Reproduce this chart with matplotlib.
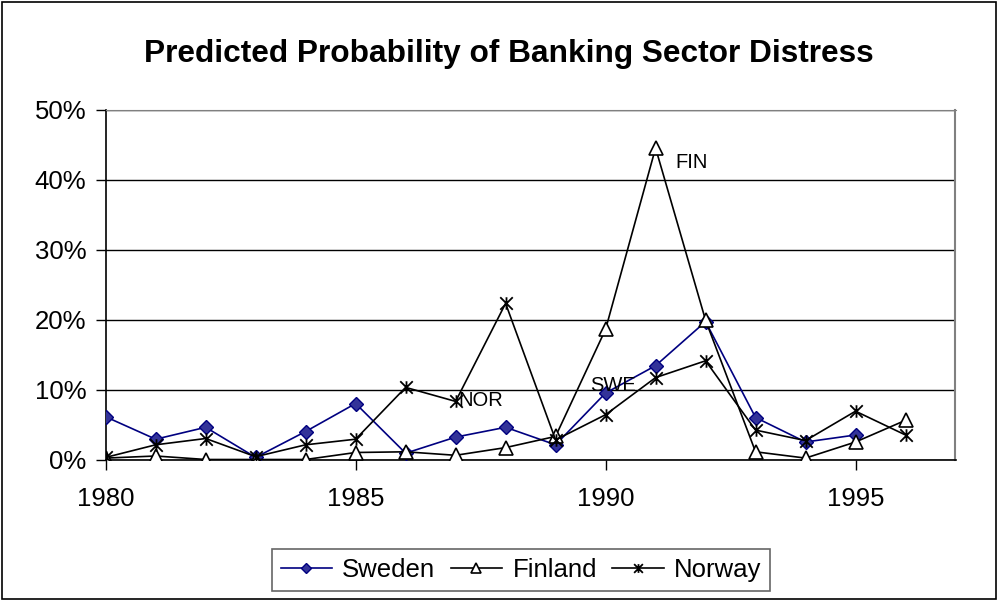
import matplotlib
matplotlib.use("Agg")
import matplotlib.pyplot as plt
from matplotlib.path import Path
from matplotlib.patches import Rectangle
from matplotlib.ticker import FuncFormatter

plt.rcParams['font.family'] = ['Liberation Sans', 'DejaVu Sans']

years = list(range(1980, 1997))
sweden = [6.1, 2.9, 4.6, 0.3, 4.0, 8.0, 0.9, 3.2, 4.6, 2.1, 9.5, 13.4, 19.7, 6.0, 2.5, 3.5]
finland = [0.2, 0.5, 0.0, 0.0, 0.0, 1.0, 1.1, 0.6, 1.7, 3.3, 18.6, 44.5, 19.9, 1.1, 0.2, 2.5, 5.6]
norway = [0.3, 2.1, 3.0, 0.4, 2.1, 2.9, 10.3, 8.3, 22.3, 2.8, 6.4, 11.7, 14.1, 4.2, 2.7, 6.9, 3.5]

# excel style star: X plus a vertical bar
star = Path([(0, -1), (0, 1), (-1, -1), (1, 1), (-1, 1), (1, -1)],
            [Path.MOVETO, Path.LINETO, Path.MOVETO, Path.LINETO, Path.MOVETO, Path.LINETO])

fig = plt.figure(figsize=(9.98, 6), dpi=100)
ax = fig.add_axes([105.7 / 998, 1 - 459.5 / 600, (955.5 - 105.7) / 998, 350 / 600])

ax.plot(years[:len(sweden)], sweden, color='#000080', lw=1.2, marker='D', ms=7.5,
        mfc='#333399', mec='#000080', label='Sweden', zorder=3)
ax.plot(years, finland, color='black', lw=1.2, marker='^', ms=10,
        mfc='white', mec='black', mew=1.2, label='Finland', zorder=4)
ax.plot(years, norway, color='black', lw=1.2, marker=star, ms=9,
        mec='black', mew=1.3, label='Norway', zorder=5)

ax.text(1991.4, 42.5, 'FIN', fontsize=14.5, va='center', ha='left')
ax.text(1987.05, 8.5, 'NOR', fontsize=14.5, va='center', ha='left')
ax.text(1989.7, 10.6, 'SWE', fontsize=14.5, va='center', ha='left')

ax.set_xlim(1980, 1997)
ax.set_ylim(0, 50)
ax.set_xticks([1980, 1985, 1990, 1995])
ax.set_yticks(range(0, 51, 10))
ax.yaxis.set_major_formatter(FuncFormatter(lambda v, p: '%d%%' % v))
ax.tick_params(labelsize=18.5, length=7, width=1, colors='black')
ax.tick_params(axis='y', pad=7)
ax.tick_params(axis='x', pad=13)
ax.grid(axis='y', color='black', lw=1)
ax.set_axisbelow(True)
ax.spines['right'].set_color('#808080')
ax.spines['top'].set_color('#808080')
ax.spines['right'].set_linewidth(1.5)
ax.spines['left'].set_linewidth(1.2)
ax.spines['bottom'].set_linewidth(1.2)

fig.text(509 / 998, 1 - 62 / 600, 'Predicted Probability of Banking Sector Distress',
         ha='center', va='baseline', fontsize=22.8, fontweight='bold')

leg = fig.legend(loc='center', bbox_to_anchor=(521 / 998, 1 - 570 / 600), ncol=3,
                 fontsize=18.5, frameon=True, fancybox=False, edgecolor='#404040',
                 handlelength=2.0, handletextpad=0.4, columnspacing=0.6, borderpad=0.35,
                 markerscale=0.7, borderaxespad=0)
leg.get_frame().set_linewidth(1.2)

fig.patches.append(Rectangle((0.002, 0.002), 0.996, 0.995, transform=fig.transFigure,
                             fill=False, edgecolor='black', lw=1.2))

fig.savefig('out.png', dpi=100)
